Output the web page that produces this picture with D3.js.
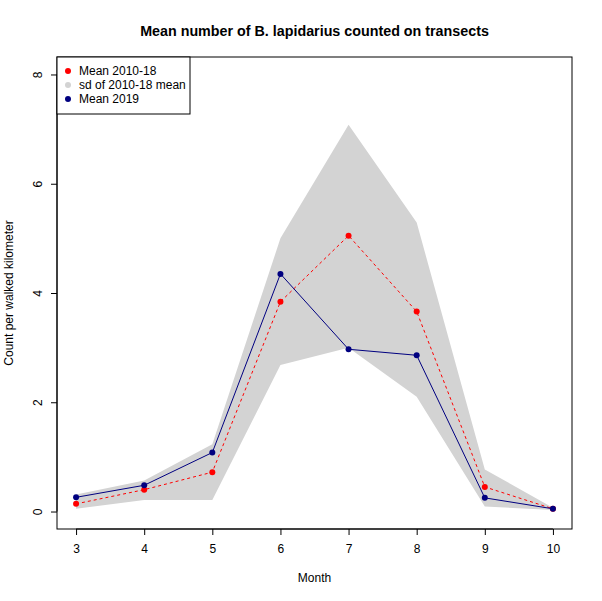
<!DOCTYPE html>
<html>
<head>
<meta charset="utf-8">
<script src="https://d3js.org/d3.v7.min.js"></script>
<style>
  body { margin: 0; background: #fff; }
  text { font-family: "Liberation Sans", Arial, sans-serif; fill: #000; }
</style>
</head>
<body>
<div id="chart"></div>
<script>
// data
var months = [3, 4, 5, 6, 7, 8, 9, 10];
var mean1018 = [0.14, 0.40, 0.72, 3.84, 5.05, 3.66, 0.45, 0.05];
var mean2019 = [0.26, 0.48, 1.08, 4.35, 2.97, 2.86, 0.25, 0.05];
var sdUpper = [0.31, 0.57, 1.23, 5.00, 7.08, 5.29, 0.77, 0.07];
var sdLower = [0.05, 0.21, 0.21, 2.68, 3.00, 2.10, 0.09, 0.03];
var yTicks = [0, 2, 4, 6, 8];
var legendLabels = ["Mean 2010-18", "sd of 2010-18 mean", "Mean 2019"];
var legendColors = ["#ff0000", "#d3d3d3", "#000080"];

var W = 602, H = 601;
var box = { left: 57, top: 57, right: 572, bottom: 529 };

// R style: 4% padding on each side of the range
var x = d3.scaleLinear().domain([3 - 0.28, 10 + 0.28]).range([box.left, box.right]);
var y = d3.scaleLinear().domain([0 - 0.32, 8 + 0.32]).range([box.bottom, box.top]);

var svg = d3.select("#chart").append("svg")
    .attr("width", W).attr("height", H);

// sd band
var band = months.map(function (m, i) { return { m: m, lo: sdLower[i], hi: sdUpper[i] }; });
svg.append("path")
    .datum(band)
    .attr("fill", "#d3d3d3")
    .attr("stroke", "none")
    .attr("d", d3.area().x(function (d) { return x(d.m); })
        .y0(function (d) { return y(d.lo); })
        .y1(function (d) { return y(d.hi); }));

function series(vals, color, dash) {
    var pts = months.map(function (m, i) { return { m: m, v: vals[i] }; });
    svg.append("path")
        .datum(pts)
        .attr("fill", "none")
        .attr("stroke", color)
        .attr("stroke-width", 1)
        .attr("stroke-dasharray", dash)
        .attr("d", d3.line().x(function (d) { return x(d.m); }).y(function (d) { return y(d.v); }));
    svg.selectAll(null)
        .data(pts)
        .enter().append("circle")
        .attr("cx", function (d) { return x(d.m); })
        .attr("cy", function (d) { return y(d.v); })
        .attr("r", 3)
        .attr("fill", color);
}
series(mean1018, "#ff0000", "3,3");
series(mean2019, "#000080", null);

// plot box
svg.append("rect")
    .attr("x", box.left).attr("y", box.top)
    .attr("width", box.right - box.left).attr("height", box.bottom - box.top)
    .attr("fill", "none").attr("stroke", "#000").attr("stroke-width", 1);

// x axis
var xAxis = svg.append("g")
    .attr("transform", "translate(0," + box.bottom + ")")
    .call(d3.axisBottom(x).tickValues(months).tickSize(6).tickPadding(9).tickFormat(d3.format("d")));
xAxis.select(".domain").attr("d", "M" + x(3) + ",0H" + x(10)).attr("stroke", "#000");
xAxis.selectAll("text").attr("font-size", 12).style("font-family", "Liberation Sans, Arial, sans-serif");

// y axis
var yAxis = svg.append("g")
    .attr("transform", "translate(" + box.left + ",0)")
    .call(d3.axisLeft(y).tickValues(yTicks).tickSize(6).tickFormat(d3.format("d")));
yAxis.select(".domain").attr("d", "M0," + y(0) + "V" + y(8)).attr("stroke", "#000");
yAxis.selectAll(".tick text")
    .attr("x", null).attr("dy", null)
    .attr("transform", "translate(-15,0) rotate(-90)")
    .attr("text-anchor", "middle")
    .attr("font-size", 12)
    .style("font-family", "Liberation Sans, Arial, sans-serif");

// titles
svg.append("text")
    .attr("x", (box.left + box.right) / 2).attr("y", 36)
    .attr("text-anchor", "middle")
    .attr("font-size", 14.3).attr("font-weight", "bold")
    .text("Mean number of B. lapidarius counted on transects");
svg.append("text")
    .attr("x", (box.left + box.right) / 2).attr("y", 582)
    .attr("text-anchor", "middle").attr("font-size", 12)
    .text("Month");
svg.append("text")
    .attr("transform", "translate(13," + ((box.top + box.bottom) / 2) + ") rotate(-90)")
    .attr("text-anchor", "middle").attr("font-size", 12)
    .text("Count per walked kilometer");

// legend
var leg = svg.append("g");
leg.append("rect")
    .attr("x", box.left).attr("y", box.top)
    .attr("width", 133).attr("height", 57)
    .attr("fill", "#fff").attr("stroke", "#000");
legendLabels.forEach(function (lab, i) {
    var cy = box.top + 14 + i * 14;
    leg.append("circle").attr("cx", 68).attr("cy", cy).attr("r", 3).attr("fill", legendColors[i]);
    leg.append("text").attr("x", 79).attr("y", cy + 4).attr("font-size", 12).text(lab);
});
</script>
</body>
</html>
